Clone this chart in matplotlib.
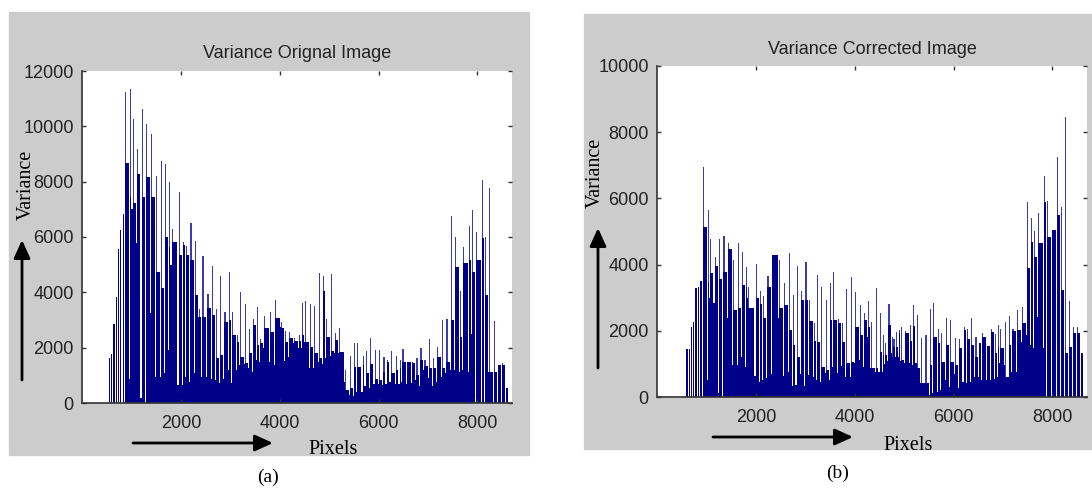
import numpy as np
import matplotlib
matplotlib.use("Agg")
import matplotlib.pyplot as plt
from matplotlib.patches import Rectangle

# ---- data (pixel index, spike top, body level, gap bottom) ----
a_pix = [539, 593, 633, 687, 727, 774, 821, 875, 976, 1023,
         1118, 1205, 1299, 1394, 1502, 1596, 1683, 1757, 1811, 1953,
         2047, 2101, 2195, 2289, 2360, 2437, 2538, 2633, 2713, 2787,
         2882, 2969, 3043, 3144, 3205, 3292, 3387, 3468, 3535, 3595,
         3683, 3797, 3898, 4020, 4100, 4195, 4296, 4390, 4457, 4511,
         4606, 4693, 4788, 4868, 4929, 5030, 5111, 5205, 5313, 5414,
         5495, 5562, 5676, 5737, 5831, 5919, 6013, 6100, 6161, 6242,
         6350, 6424, 6484, 6579, 6680, 6767, 6848, 6929, 7023, 7104,
         7185, 7286, 7373, 7467, 7555, 7642, 7703, 7824, 7885, 7979,
         8093, 8154, 8242, 8329, 8410, 8498, 8572]
a_peak = [1610, 1770, 2840, 3840, 5570, 6250, 6820, 11250, 11350, 10250,
          9180, 10625, 10083, 9710, 8215, 8758, 8637, 8000, 6288, 7637,
          5805, 5684, 6517, 5865, 3400, 5324, 3925, 4963, 3395, 4590,
          3300, 4745, 3275, 2455, 4000, 3566, 2660, 3033, 3455, 2310,
          3154, 3300, 3720, 2913, 2600, 2550, 2335, 2455, 3624, 3684,
          3564, 3516, 4684, 4600, 3033, 4648, 2515, 2720, 1190, 1708,
          2154, 2154, 1708, 1877, 2359, 1913, 1913, 1648, 1551, 1877,
          1696, 1551, 1937, 1491, 1467, 1635, 1973, 1551, 2298, 1635,
          2033, 2997, 3033, 6769, 6010, 4046, 5648, 6395, 6974, 6190,
          8046, 6010, 7781, 2973, 1370, 1431, 527]
a_fill = [1610, 1770, 2840, 3840, 5570, 6250, 6820, 8660, 7460, 7215,
          8275, 7456, 8155, 7456, 4744, 4166, 6010, 5648, 5830, 5347,
          5708, 5347, 5166, 3900, 3118, 3118, 3420, 3178, 1610, 1730,
          2940, 3000, 2455, 2214, 1672, 1431, 1792, 2817, 2093, 2154,
          2696, 2576, 3058, 2696, 2214, 2335, 2250, 2238, 2455, 2214,
          2033, 1792, 1611, 4046, 2395, 1877, 2274, 1829, 467, 527,
          1310, 1290, 1370, 1069, 1395, 864, 828, 1130, 1500, 1069,
          1190, 1250, 1480, 1491, 1430, 1009, 1551, 1346, 1250, 1274,
          1672, 1274, 1491, 2997, 4925, 2395, 5046, 5166, 4745, 5166,
          5950, 3901, 1130, 1130, 1370, 1370, 527]
a_dip = [0, 0, 0, 0, 0, 0, 0, 860, 7000, 5770,
         165, 0, 3240, 950, 950, 1070, 1910, 5000, 650, 650,
         950, 770, 1070, 3118, 950, 950, 864, 828, 708, 864,
         1190, 708, 1190, 1370, 1395, 1274, 1105, 1551, 1491, 2000,
         1491, 1370, 2756, 1515, 1672, 2154, 1973, 2000, 2200, 1250,
         1250, 1467, 1400, 1635, 1700, 1800, 1800, 768, 300, 250,
         400, 407, 600, 550, 700, 700, 650, 700, 750, 700,
         700, 770, 700, 740, 830, 600, 1190, 900, 600, 770,
         950, 1070, 1190, 1190, 1130, 1200, 1130, 2500, 0, 0,
         0, 1130, 0, 0, 0, 0, 0]

b_pix = [589, 643, 683, 736, 777, 823, 870, 924, 1024, 1071,
         1165, 1252, 1345, 1439, 1546, 1640, 1727, 1800, 1847, 1994,
         2088, 2141, 2235, 2329, 2462, 2576, 2670, 2750, 2824, 2917,
         3004, 3078, 3178, 3238, 3325, 3419, 3499, 3566, 3660, 3747,
         3827, 3928, 4008, 4101, 4182, 4269, 4336, 4423, 4503, 4569,
         4610, 4683, 4750, 4784, 4837, 4891, 4931, 5011, 5118, 5185,
         5252, 5345, 5432, 5519, 5580, 5693, 5754, 5847, 5934, 6028,
         6115, 6202, 6269, 6356, 6443, 6510, 6576, 6683, 6764, 6844,
         6898, 6944, 7038, 7125, 7192, 7286, 7386, 7486, 7567, 7633,
         7714, 7827, 7894, 7995, 8095, 8175, 8249, 8343, 8410, 8503,
         8583]
b_peak = [1440, 1440, 2105, 2276, 3283, 3334, 3515, 6938, 5650, 4763,
          4220, 4763, 4864, 4643, 4139, 4643, 4391, 3918, 3334, 4018,
          3213, 3062, 3656, 4290, 4139, 3434, 4361, 3082, 3958, 3213,
          4089, 2931, 2226, 3686, 3334, 2931, 3434, 3787, 2347, 2226,
          3253, 3636, 3183, 2770, 2528, 2900, 2276, 3283, 2548, 1873,
          1622, 2810, 1823, 1743, 1974, 2025, 2125, 2004, 2175, 2770,
          2478, 1773, 1873, 2669, 2850, 2045, 1944, 2377, 2326, 1773,
          1743, 2105, 2045, 2377, 1823, 1642, 1924, 1541, 2045, 1904,
          2175, 2045, 2276, 2447, 2045, 2629, 2709, 5901, 5398, 5025,
          5569, 6677, 5922, 5045, 7241, 5750, 8449, 2900, 2125, 2125,
          1340]
b_fill = [1440, 1440, 2105, 2276, 3283, 3334, 3515, 5126, 3485, 3736,
          3958, 3555, 3787, 4461, 2629, 2679, 3384, 3334, 2679, 2981,
          2810, 2377, 3334, 4290, 2679, 2780, 2025, 1571, 1219, 2931,
          2931, 2306, 1702, 1672, 917, 816, 2326, 2326, 2226, 1672,
          1018, 1068, 2125, 1873, 2326, 2125, 886, 866, 1370, 1270,
          1270, 2175, 1501, 1501, 1521, 1924, 1119, 1924, 1702, 2146,
          866, 413, 413, 967, 1823, 1622, 1068, 1571, 1068, 967,
          1471, 2025, 1743, 1571, 1219, 1642, 1823, 1541, 1974, 1340,
          1500, 1471, 614, 1571, 2004, 2025, 2226, 3887, 4693, 4240,
          4643, 5901, 4844, 5045, 5499, 3233, 1320, 1521, 1924, 1924,
          1340]
b_dip = [0, 0, 0, 0, 0, 0, 0, 514, 3000, 2830,
         131, 0, 2377, 967, 967, 1219, 917, 3000, 635, 464,
         514, 564, 695, 2377, 635, 766, 333, 363, 695, 333,
         665, 614, 514, 464, 715, 514, 917, 715, 937, 614,
         614, 1018, 1119, 917, 1823, 866, 766, 766, 766, 1000,
         1100, 1320, 1200, 1200, 1200, 1100, 1018, 1018, 967, 1018,
         413, 413, 61, 131, 161, 212, 514, 313, 695, 262,
         464, 413, 464, 614, 614, 514, 514, 514, 530, 614,
         1018, 967, 614, 766, 766, 1672, 1873, 1571, 1471, 2427,
         1471, 0, 0, 0, 0, 0, 0, 0, 0, 0,
         0]

a_yticks = [0, 2000, 4000, 6000, 8000, 10000, 12000]
b_yticks = [0, 2000, 4000, 6000, 8000, 10000]
xticks = [2000, 4000, 6000, 8000]

NAVY = "#000088"
SPIKE = "#3c3cae"
GRAY = "#cccccc"
W, H = 1092, 488

sans = ["Liberation Sans", "DejaVu Sans"]
serif = ["Liberation Serif", "DejaVu Serif"]


def fx(px):
    return px / W


def fy(py):
    return 1 - py / H


def draw_bars(ax, pix, peak, fill, dip):
    pix = np.asarray(pix, float)
    nxt = np.append(pix[1:], pix[-1] + 60)
    gap = nxt - pix
    w = 22
    ax.bar(pix, peak, width=w, align="edge", color=SPIKE, linewidth=0)
    ax.bar(pix, fill, width=gap - w, align="edge", color=NAVY, linewidth=0)
    ax.bar(nxt - w, dip, width=w, align="edge", color=NAVY, linewidth=0)


def style_axes(ax, title, ymax, yticks):
    ax.set_xlim(0, 8700)
    ax.set_ylim(0, ymax)
    ax.set_xticks(xticks)
    ax.set_yticks(yticks)
    ax.set_title(title, fontsize=13, family=sans, color="#222222", pad=9)
    for s in ("top", "right"):
        ax.spines[s].set_visible(False)
    for s in ("left", "bottom"):
        ax.spines[s].set_color("#333333")
        ax.spines[s].set_linewidth(1.2)
    ax.tick_params(direction="in", length=3, width=1, top=True, right=True,
                   labelsize=13, color="#333333", labelcolor="#222222")
    ax.tick_params(axis="y", pad=6)
    ax.tick_params(axis="x", pad=9)
    for lab in ax.get_xticklabels() + ax.get_yticklabels():
        lab.set_family(sans)


def arrow(fig, x0, y0, x1, y1):
    fig.add_artist(matplotlib.patches.FancyArrowPatch(
        (fx(x0), fy(y0)), (fx(x1), fy(y1)), transform=fig.transFigure,
        arrowstyle="-|>,head_length=1.1,head_width=0.5", mutation_scale=10,
        color="black", linewidth=2, shrinkA=0, shrinkB=0))


fig = plt.figure(figsize=(W / 100, H / 100), dpi=100)
fig.patch.set_facecolor("white")

# gray figure panels
fig.add_artist(Rectangle((fx(9), fy(455)), fx(520), 443 / H,
                         transform=fig.transFigure, color=GRAY, zorder=0))
fig.add_artist(Rectangle((fx(584), fy(449)), fx(508), 435 / H,
                         transform=fig.transFigure, color=GRAY, zorder=0))

ax1 = fig.add_axes([fx(82), fy(403), fx(430), 332 / H])
draw_bars(ax1, a_pix, a_peak, a_fill, a_dip)
style_axes(ax1, "Variance Orignal Image", 12000, a_yticks)
ax1.set_ylabel("Variance", fontsize=14.5, family=serif)
ax1.yaxis.set_label_coords((36 - 82) / 430, (403 - 185) / 332)
ax1.set_xlabel("Pixels", fontsize=14.5, family=serif)
ax1.xaxis.set_label_coords((333 - 82) / 430, (403 - 440) / 332)

ax2 = fig.add_axes([fx(657), fy(397), fx(430), 331 / H])
draw_bars(ax2, b_pix, b_peak, b_fill, b_dip)
style_axes(ax2, "Variance Corrected Image", 10000, b_yticks)
ax2.set_ylabel("Variance", fontsize=14.5, family=serif)
ax2.yaxis.set_label_coords((605 - 657) / 430, (397 - 173) / 331)
ax2.set_xlabel("Pixels", fontsize=14.5, family=serif)
ax2.xaxis.set_label_coords((908 - 657) / 430, (397 - 436) / 331)

# arrows drawn beside the axis labels
arrow(fig, 22, 380, 22, 240)
arrow(fig, 133, 443, 273, 443)
arrow(fig, 598, 368, 598, 228)
arrow(fig, 713, 437, 853, 437)

fig.text(fx(268), fy(477), "(a)", ha="center", va="center", fontsize=14, family=serif)
fig.text(fx(838), fy(473), "(b)", ha="center", va="center", fontsize=14, family=serif)

fig.savefig("out.png", dpi=100)
